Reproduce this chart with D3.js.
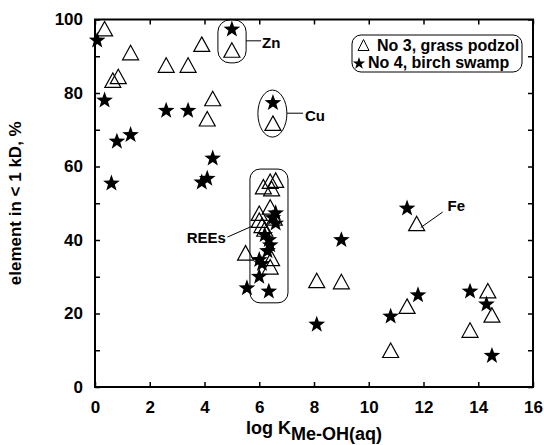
<!DOCTYPE html>
<html lang="en">
<head>
<meta charset="UTF-8">
<title>element in &lt; 1 kD vs log K</title>
<style>
    body { margin: 0; background: #fff; }
    svg { display: block; }
    text { font-family: "Liberation Sans", Arial, Helvetica, sans-serif; font-weight: bold; fill: #000; }
</style>
</head>
<body>
<script src="https://cdn.jsdelivr.net/npm/d3@7"></script>
<script>
    // No 3, grass podzol (open triangles) : [log K, %]
    const podzol = [
        [0.35, 97.5], [0.65, 83.5], [0.85, 84.5], [1.3, 91], [2.6, 87.6], [3.4, 87.6],
        [3.9, 93.3], [4.1, 73], [4.3, 78.5], [5.0, 91.7], [6.5, 71.8],
        // REEs
        [6.15, 54.5], [6.4, 56], [6.6, 56.3], [6.45, 54], [6.0, 47.3], [6.4, 49],
        [6.0, 45.4], [6.1, 44], [6.2, 43], [5.5, 36.5], [6.45, 35], [6.4, 32.7], [6.55, 46],
        [8.1, 29], [9.0, 28.7], [10.8, 10], [11.4, 22], [11.75, 44.5],
        [13.7, 15.5], [14.35, 26.2], [14.5, 19.6]
    ];
    // No 4, birch swamp (stars)
    const swamp = [
        [0.08, 94.3], [0.35, 78], [0.6, 55.4], [0.8, 66.8], [1.3, 68.6], [2.6, 75.2], [3.4, 75.2],
        [3.9, 55.7], [4.1, 56.7], [4.3, 62.2], [5.0, 97.3], [6.5, 77.3],
        // REEs
        [6.6, 47.3], [6.5, 46], [6.6, 44.5], [6.2, 41.4], [6.35, 40], [6.4, 38.6], [6.3, 37],
        [6.0, 34.6], [6.1, 33.5], [6.0, 30], [5.55, 26.9], [6.35, 26],
        [8.1, 17], [9.0, 40], [10.8, 19.2], [11.4, 48.6], [11.8, 25],
        [13.7, 26], [14.3, 22.5], [14.5, 8.5]
    ];
    const xTicks = d3.range(0, 17, 2);
    const yTicks = d3.range(0, 101, 10);
    const legendLabels = ["No 3, grass podzol", "No 4, birch swamp"];

    const W = 544, H = 445;
    const m = {top: 19.5, right: 11, bottom: 58, left: 95};

    const svg = d3.select("body").append("svg")
        .attr("width", W)
        .attr("height", H);

    const x = d3.scaleLinear().domain([0, 16]).range([m.left, W - m.right]);
    const y = d3.scaleLinear().domain([0, 100]).range([H - m.bottom, m.top]);

    // symbols
    function trianglePath(w, h) {
        return `M0,${-h / 2}L${w / 2},${h / 2}L${-w / 2},${h / 2}Z`;
    }
    function starPath(R, r) {
        let p = [];
        for (let i = 0; i < 10; i++) {
            let a = -Math.PI / 2 + i * Math.PI / 5;
            let rr = i % 2 === 0 ? R : r;
            p.push([rr * Math.cos(a), rr * Math.sin(a)]);
        }
        return "M" + p.map(d => d.join(",")).join("L") + "Z";
    }

    // axes (ticks pointing inward)
    const axB = svg.append("g").attr("transform", `translate(0,${y(0)})`)
        .call(d3.axisBottom(x).tickValues(xTicks).tickSize(-5).tickPadding(14));
    const axT = svg.append("g").attr("transform", `translate(0,${y(100)})`)
        .call(d3.axisTop(x).tickValues(xTicks).tickSize(-5).tickFormat(""));
    const axL = svg.append("g").attr("transform", `translate(${x(0)},0)`)
        .call(d3.axisLeft(y).tickValues(yTicks).tickSize(-5).tickPadding(12)
            .tickFormat(d => d % 20 === 0 ? d : ""));
    const axR = svg.append("g").attr("transform", `translate(${x(16)},0)`)
        .call(d3.axisRight(y).tickValues(yTicks).tickSize(-5).tickFormat(""));

    [axB, axT, axL, axR].forEach(a => {
        a.select(".domain").remove();
        a.selectAll(".tick line").attr("stroke", "#000").attr("stroke-width", 1.5);
        a.selectAll(".tick text").style("font-size", "17px").attr("fill", "#000");
    });

    svg.append("rect")
        .attr("x", x(0)).attr("y", y(100))
        .attr("width", x(16) - x(0)).attr("height", y(0) - y(100))
        .attr("fill", "none").attr("stroke", "#000").attr("stroke-width", 2);

    // axis titles
    svg.append("text")
        .attr("transform", `translate(21,${(y(0) + y(100)) / 2}) rotate(-90)`)
        .attr("text-anchor", "middle")
        .style("font-size", "17px")
        .text("element in < 1 kD, %");

    const xt = svg.append("text")
        .attr("x", x(8)).attr("y", 434)
        .attr("text-anchor", "middle")
        .style("font-size", "18px");
    xt.append("tspan").text("log K");
    xt.append("tspan").attr("dy", 6).style("font-size", "18px").text("Me-OH(aq)");

    // annotations
    const ann = svg.append("g").attr("fill", "none").attr("stroke", "#000").attr("stroke-width", 1);
    // Zn
    ann.append("rect")
        .attr("x", x(4.49)).attr("y", y(99.9))
        .attr("width", x(5.52) - x(4.49)).attr("height", y(88.2) - y(99.9))
        .attr("rx", 12);
    ann.append("line").attr("x1", x(5.52)).attr("y1", y(94.2)).attr("x2", x(6.07)).attr("y2", y(94.2));
    // Cu
    ann.append("ellipse").attr("cx", x(6.48)).attr("cy", y(74.4)).attr("rx", 14.5).attr("ry", 23.5);
    ann.append("line").attr("x1", x(7.01)).attr("y1", y(74.5)).attr("x2", x(7.6)).attr("y2", y(74.5));
    // REEs
    ann.append("rect")
        .attr("x", x(5.66)).attr("y", y(59.3))
        .attr("width", x(7.05) - x(5.66)).attr("height", y(22.9) - y(59.3))
        .attr("rx", 10);
    ann.append("line").attr("x1", x(4.84)).attr("y1", y(40.8)).attr("x2", x(5.75)).attr("y2", y(43.8));
    // Fe
    ann.append("line").attr("x1", x(12.7)).attr("y1", y(47.6)).attr("x2", x(11.9)).attr("y2", y(43.4));

    const labels = [
        {t: "Zn", x: 6.1, y: 92.2, a: "start"},
        {t: "Cu", x: 7.67, y: 72.4, a: "start"},
        {t: "REEs", x: 4.78, y: 39.1, a: "end"},
        {t: "Fe", x: 12.88, y: 47.8, a: "start"}
    ];
    svg.append("g").selectAll("text")
        .data(labels)
        .enter()
        .append("text")
            .attr("x", d => x(d.x))
            .attr("y", d => y(d.y))
            .attr("text-anchor", d => d.a)
            .style("font-size", "15px")
            .text(d => d.t);

    // points
    svg.append("g").selectAll("path")
        .data(podzol)
        .enter()
        .append("path")
            .attr("transform", d => `translate(${x(d[0])},${y(d[1])})`)
            .attr("d", trianglePath(16, 14.5))
            .attr("fill", "none")
            .attr("stroke", "#000")
            .attr("stroke-width", 1.2);

    svg.append("g").selectAll("path")
        .data(swamp)
        .enter()
        .append("path")
            .attr("transform", d => `translate(${x(d[0])},${y(d[1])})`)
            .attr("d", starPath(8.8, 3.6))
            .attr("fill", "#000");

    // legend
    const lg = svg.append("g");
    lg.append("rect")
        .attr("x", 352).attr("y", 35).attr("width", 170).attr("height", 37)
        .attr("rx", 9)
        .attr("fill", "#fff").attr("stroke", "#000").attr("stroke-width", 1);
    lg.append("path")
        .attr("transform", "translate(363.5,45)")
        .attr("d", trianglePath(11, 11))
        .attr("fill", "none").attr("stroke", "#000").attr("stroke-width", 1);
    lg.append("path")
        .attr("transform", "translate(359,63.5)")
        .attr("d", starPath(6.5, 2.6))
        .attr("fill", "#000");
    lg.selectAll("text")
        .data(legendLabels)
        .enter()
        .append("text")
            .attr("x", (d, i) => i === 0 ? 377 : 368)
            .attr("y", (d, i) => 50.5 + i * 17.5)
            .style("font-size", "16px")
            .text(d => d);
</script>
</body>
</html>
